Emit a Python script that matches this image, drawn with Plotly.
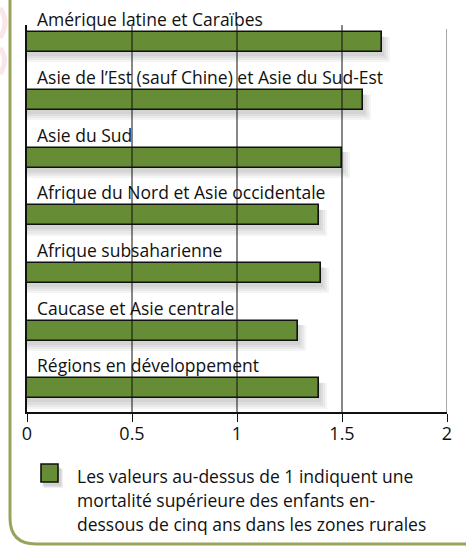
import plotly.graph_objects as go

categories = [
    "Amérique latine et Caraïbes",
    "Asie de l’Est (sauf Chine) et Asie du Sud-Est",
    "Asie du Sud",
    "Afrique du Nord et Asie occidentale",
    "Afrique subsaharienne",
    "Caucase et Asie centrale",
    "Régions en développement",
]
values = [1.69, 1.6, 1.5, 1.39, 1.4, 1.29, 1.39]
tick_vals = [0, 0.5, 1, 1.5, 2]
tick_text = ["0", "0.5", "1", "1.5", "2"]
legend_lines = [
    "Les valeurs au-dessus de 1 indiquent une",
    "mortalité supérieure des enfants en-",
    "dessous de cinq ans dans les zones rurales",
]

W, H = 466, 546
L, R, T, B = 27, 19, 25, 134
PW, PH = W - L - R, H - T - B
FONT = "Open Sans"
GREEN = "#668d36"
OLIVE = "#9aa35c"


def px(x):
    return (x - L) / PW


def py(y):
    return (H - B - y) / PH


fig = go.Figure()

BW = 0.35
# soft drop shadows
for k in range(4):
    grow = 0.03 * k
    fig.add_trace(go.Bar(
        y=categories, x=[v + 0.01 + 0.01 * k for v in values], orientation="h",
        width=BW + grow, offset=-BW / 2 + 0.07 + 0.02 * k - grow / 2,
        marker=dict(color="rgba(0,0,0,0.045)", line=dict(width=0)),
        hoverinfo="skip", showlegend=False,
    ))

fig.add_trace(go.Bar(
    y=categories, x=values, orientation="h", width=BW,
    marker=dict(color=GREEN, line=dict(color="#111111", width=1.6)),
    showlegend=False,
))

shapes = []
for xv in tick_vals[1:-1]:
    shapes.append(dict(type="line", xref="x", yref="paper", x0=xv, x1=xv, y0=0, y1=1,
                       line=dict(color="#111111", width=1), layer="above"))
shapes.append(dict(type="line", xref="x", yref="paper", x0=2, x1=2, y0=0, y1=py(29),
                   line=dict(color="#8a8a8a", width=1.5), layer="above"))

# faint logo remnants at the far left
for p in [((0, 8), (10, 22), (0, 38)), ((0, 48), (9, 60), (0, 74))]:
    (a, b), (c, d), (e, f) = p
    shapes.append(dict(type="path", xref="paper", yref="paper",
                       path=f"M {px(a)} {py(b)} Q {px(c)} {py(d)} {px(e)} {py(f)}",
                       line=dict(color="rgba(230,140,150,0.22)", width=5), layer="below"))

# outer olive frame (left and bottom with rounded corner)
x0, yb, r = 10, 544, 26
path = (f"M {px(x0)} {py(-5)} L {px(x0)} {py(yb - r)} "
        f"Q {px(x0)} {py(yb)} {px(x0 + r)} {py(yb)} L {px(480)} {py(yb)}")
shapes.append(dict(type="path", xref="paper", yref="paper", path=path,
                   line=dict(color=OLIVE, width=3), layer="above"))

# legend box with shadow
for k in range(3):
    shapes.append(dict(type="rect", xref="paper", yref="paper",
                       x0=px(42 + k), x1=px(61 + k), y0=py(486 + k), y1=py(467 + k),
                       fillcolor="rgba(0,0,0,0.06)", line=dict(width=0), layer="above"))
shapes.append(dict(type="rect", xref="paper", yref="paper",
                   x0=px(41), x1=px(58), y0=py(482), y1=py(464),
                   fillcolor=GREEN, line=dict(color="#111111", width=1.6), layer="above"))

annotations = []
for c in categories:
    annotations.append(dict(x=0, y=c, xref="x", yref="y", text=c, showarrow=False,
                            xanchor="left", yanchor="bottom", xshift=8, yshift=9,
                            font=dict(family=FONT, size=17.5, color="#111111")))
for i, line in enumerate(legend_lines):
    annotations.append(dict(x=px(75), y=py(476 + 24 * i), xref="paper", yref="paper",
                            text=line, showarrow=False, xanchor="left", yanchor="middle",
                            font=dict(family=FONT, size=17.5, color="#111111")))

fig.update_layout(
    width=W, height=H, autosize=False,
    margin=dict(l=L, r=R, t=T, b=B, pad=0),
    paper_bgcolor="white", plot_bgcolor="white",
    barmode="overlay", bargap=0,
    shapes=shapes, annotations=annotations,
    font=dict(family=FONT, size=17.5, color="#111111"),
    xaxis=dict(range=[0, 2], tickvals=tick_vals, ticktext=tick_text, showgrid=False,
               zeroline=False, showline=True, linecolor="#111111", linewidth=1.5,
               ticks="outside", ticklen=8, tickcolor="#111111", tickwidth=1,
               ticklabelstandoff=-3,
               tickfont=dict(family=FONT, size=18, color="#111111"),
               layer="above traces", fixedrange=True),
    yaxis=dict(type="category", categoryorder="array", categoryarray=categories,
               range=[6.41, -0.30], showticklabels=False, showgrid=False,
               zeroline=False, showline=True, linecolor="#111111", linewidth=1.5,
               ticks="", layer="above traces", fixedrange=True),
)

fig.write_html("out.html", config={"displayModeBar": False},
               post_script="document.body.style.margin='0';document.body.style.overflow='hidden';")
